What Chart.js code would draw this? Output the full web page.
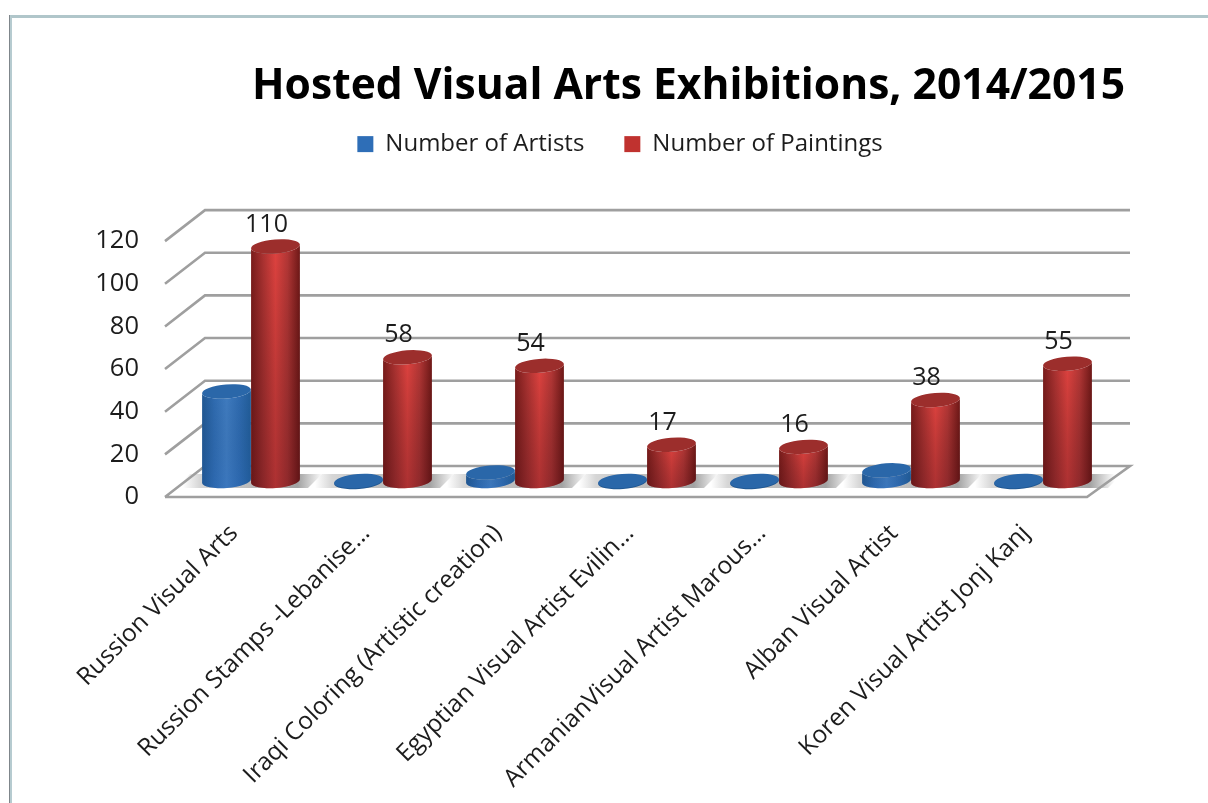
<!DOCTYPE html>
<html>
<head>
<meta charset="utf-8">
<title>Hosted Visual Arts Exhibitions</title>
<script src="https://cdn.jsdelivr.net/npm/chart.js@4/dist/chart.umd.js"></script>
<style>
  html, body { margin: 0; padding: 0; background: #fff; overflow: hidden; }
  #wrap { position: relative; width: 1208px; height: 803px; }
  #chart { filter: blur(0.45px); }
  #frame { position: absolute; left: 10px; top: 15px; right: 0; bottom: 0;
           border-left: 2px solid #b6cbd0; border-top: 3px solid #b0c6ca;
           box-shadow: -1px 0 0 #7f868b; pointer-events: none; }
</style>
</head>
<body>
<div id="wrap">
  <canvas id="chart" width="1208" height="803"></canvas>
  <div id="frame"></div>
</div>
<script>
const categories = [
  'Russion Visual Arts',
  'Russion Stamps -Lebanise…',
  'Iraqi Coloring (Artistic creation)',
  'Egyptian Visual Artist Evilin…',
  'ArmanianVisual Artist Marous…',
  'Alban Visual Artist',
  'Koren Visual Artist Jonj Kanj'
];
const artists = [42, 0, 4, 0, 0, 5, 0];
const paintings = [110, 58, 54, 17, 16, 38, 55];
const yTicks = [0, 20, 40, 60, 80, 100, 120];

const fontName = '"Open Sans", sans-serif';
const textColor = '#1c1c1c';

// the fake 3d box, offsets from the value scale (which is the front plane)
const depthX = 40, backY = -31, baseY = -16;

function sideGradient(ctx, x0, w, stops) {
  const g = ctx.createLinearGradient(x0, 0, x0 + w, 0);
  stops.forEach((c, i) => g.addColorStop(i / (stops.length - 1), c));
  return g;
}

const palettes = [
  { side: ['#215893', '#2f6bb0', '#3f7bbf', '#2f6bb0', '#215c98'], top: '#2a67a9', shade: 'rgba(30,90,180,0.12)' },
  { side: ['#7a1c1b', '#ab3231', '#de423f', '#b23635', '#6f1817'], top: '#9c2e2c', shade: 'rgba(60,10,20,0.3)' }
];

function cylinder(ctx, cx, w, yTop, yBase, pal) {
  const rx = w / 2, ry = 7, tilt = -0.08;
  const h = yBase - yTop;
  if (h > 1) {
    ctx.beginPath();
    ctx.ellipse(cx, yBase, rx, ry, tilt, 0, Math.PI);
    ctx.ellipse(cx, yTop, rx, ry, tilt, Math.PI, 0, true);
    ctx.closePath();
    ctx.fillStyle = sideGradient(ctx, cx - rx, w, pal.side);
    ctx.fill();
    // lower part of the bar goes darker
    ctx.save();
    ctx.clip();
    const v = ctx.createLinearGradient(0, yTop, 0, yBase + ry);
    v.addColorStop(0, 'rgba(0,0,0,0)');
    v.addColorStop(1, pal.shade);
    ctx.fillStyle = v;
    ctx.fillRect(cx - rx - 2, yTop - ry, w + 4, h + 2 * ry + 2);
    ctx.restore();
  } else {
    // a zero bar is only a thin disc with a darker rim
    ctx.beginPath();
    ctx.ellipse(cx, yBase + 1, rx, ry, tilt, 0, Math.PI * 2);
    ctx.fillStyle = pal.side[0];
    ctx.fill();
  }
  ctx.beginPath();
  ctx.ellipse(cx, yTop, rx, ry, tilt, 0, Math.PI * 2);
  ctx.fillStyle = pal.top;
  ctx.fill();
}

const box3d = {
  id: 'box3d',
  // lets the tick labels stay inside the clip box of the y axis
  afterLayout(chart) {
    chart.scales.y.left = 60;
  },
  // floor and back wall lines go under the bars
  beforeDatasetsDraw(chart) {
    const { ctx, scales: { x, y } } = chart;
    const left = 165, right = 1087;
    const y0 = y.getPixelForValue(0);
    ctx.save();
    // shadow band on the floor around each pair of bars
    categories.forEach((c, i) => {
      const cx = x.getPixelForValue(i);
      const x0 = cx - 68, x1 = cx + 72;
      const g = ctx.createLinearGradient(x0, 0, x1, 0);
      g.addColorStop(0, '#ffffff');
      g.addColorStop(0.12, '#d6d6d6');
      g.addColorStop(0.82, '#a2a2a2');
      g.addColorStop(1, '#ffffff');
      ctx.beginPath();
      ctx.moveTo(x0 - 7, y0 - 9);
      ctx.lineTo(x1 - 7, y0 - 9);
      ctx.lineTo(x1 + 7, y0 - 23);
      ctx.lineTo(x0 + 7, y0 - 23);
      ctx.closePath();
      ctx.fillStyle = g;
      ctx.fill();
    });
    // grid lines
    yTicks.forEach(v => {
      const py = y.getPixelForValue(v);
      ctx.beginPath();
      ctx.moveTo(left, py);
      ctx.lineTo(left + depthX, py + backY);
      ctx.lineTo(right + depthX + 3, py + backY);
      if (v === 0) {
        ctx.lineTo(right, py);
        ctx.lineTo(left, py);
      }
      ctx.strokeStyle = '#9f9f9f';
      ctx.lineWidth = 2.6;
      ctx.stroke();
    });
    ctx.restore();
  },
  // the normal flat bars are skipped, cylinders are drawn instead
  beforeDatasetDraw() {
    return false;
  },
  afterDatasetsDraw(chart) {
    const { ctx, scales: { y } } = chart;
    const y0 = y.getPixelForValue(0);
    ctx.save();
    categories.forEach((c, i) => {
      [0, 1].forEach(d => {
        const el = chart.getDatasetMeta(d).data[i];
        cylinder(ctx, el.x, el.width, el.y + baseY, y0 + baseY, palettes[d]);
      });
    });
    // value labels, only the paintings series has them
    ctx.font = '25px ' + fontName;
    ctx.fillStyle = textColor;
    ctx.textAlign = 'center';
    ctx.textBaseline = 'middle';
    chart.getDatasetMeta(1).data.forEach((el, i) => {
      ctx.fillText(String(paintings[i]), el.x - 9, el.y + baseY - 22);
    });
    ctx.restore();
  }
};

const hiddenAxis = {
  display: true,
  grid: { display: false },
  border: { display: false },
  ticks: { display: false }
};

new Chart(document.getElementById('chart'), {
  type: 'bar',
  data: {
    labels: categories,
    datasets: [
      { label: 'Number of Artists', data: artists, backgroundColor: '#2e6eb7', borderWidth: 0 },
      { label: 'Number of Paintings', data: paintings, backgroundColor: '#c0322f', borderWidth: 0 }
    ]
  },
  plugins: [box3d],
  options: {
    responsive: false,
    animation: false,
    layout: { padding: { left: 115, right: 83, top: 61, bottom: 0 } },
    datasets: { bar: { categoryPercentage: 0.742, barPercentage: 1 } },
    scales: {
      x: {
        grid: { display: false },
        border: { display: false },
        afterFit(s) { s.height = 803 - 497; },
        ticks: {
          color: textColor,
          font: { family: fontName, size: 24.5 },
          minRotation: 45,
          maxRotation: 45,
          autoSkip: false,
          labelOffset: -17,
          padding: 14
        }
      },
      y: {
        min: 0,
        max: 120,
        grid: { display: false },
        border: { display: false },
        afterFit(s) { s.width = 70; },
        ticks: {
          stepSize: 20,
          color: textColor,
          font: { family: fontName, size: 25.5 },
          padding: 38
        }
      },
      spacerRight: { ...hiddenAxis, position: 'right', afterFit(s) { s.width = 16; } },
      spacerTop: { ...hiddenAxis, position: 'top', afterFit(s) { s.height = 75; } }
    },
    plugins: {
      tooltip: { enabled: false },
      title: {
        display: true,
        text: 'Hosted Visual Arts Exhibitions, 2014/2015',
        align: 'end',
        color: '#000',
        font: { family: fontName, size: 42.6, weight: 'bold' },
        padding: { top: 0, bottom: -20 }
      },
      legend: {
        position: 'top',
        labels: {
          color: textColor,
          font: { family: fontName, size: 24 },
          boxWidth: 16,
          boxHeight: 16,
          padding: 40
        }
      }
    }
  }
});
</script>
</body>
</html>
